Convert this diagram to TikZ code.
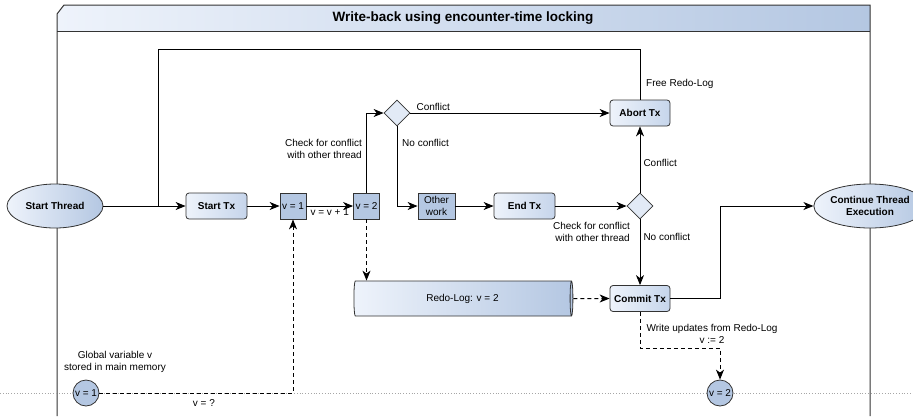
\documentclass[tikz,border=0pt]{standalone}
\usepackage{fontspec}
\setmainfont{Liberation Sans}
\usetikzlibrary{shapes.geometric,arrows.meta,positioning}

\definecolor{paleblue}{HTML}{EEF3FB}
\definecolor{softblue}{HTML}{C6D5EB}
\definecolor{midblue}{HTML}{B4C7E2}
\definecolor{poolline}{HTML}{333333}

\begin{document}
\begin{tikzpicture}[x=1pt,y=-1pt,font=\fontsize{10}{12}\selectfont,
  line/.style={draw=black, line width=1pt},
  tip/.style={-{Stealth[length=10pt,width=8pt,inset=3pt]}},
  flow/.style={line, tip},
  dflow/.style={flow, dash pattern=on 4pt off 3pt},
  term/.style={ellipse, draw=poolline, line width=0.8pt, minimum width=96pt, minimum height=44pt,
    inner sep=0pt, align=center, font=\bfseries\fontsize{10}{12}\selectfont,
    left color=paleblue, right color=midblue},
  task/.style={rectangle, rounded corners=3pt, draw=poolline, line width=0.8pt, minimum width=61pt,
    minimum height=26pt, inner sep=0pt, font=\bfseries\fontsize{10}{12}\selectfont,
    left color=paleblue, right color=softblue},
  var/.style={rectangle, draw=poolline, line width=0.8pt, fill=midblue, minimum width=26pt,
    minimum height=26pt, inner sep=0pt, align=center},
  gate/.style={diamond, draw=poolline, line width=0.8pt, fill=paleblue!70!softblue,
    minimum width=26pt, minimum height=26pt, inner sep=0pt},
  mem/.style={circle, draw=poolline, line width=0.8pt, fill=midblue, minimum size=26pt, inner sep=0pt},
  note/.style={inner sep=1pt, align=center}]
\useasboundingbox (0,0) rectangle (913,416);

% pool
\path[left color=paleblue, right color=midblue] (57,31) -- (57,14) -- (64,5) -- (870,5) -- (870,31) -- cycle;
\draw[draw=poolline, line width=1pt] (57,416) -- (57,14) -- (64,5) -- (870,5) -- (870,416);
\draw[draw=poolline, line width=1pt] (57,31) -- (870,31);
\node[font=\bfseries\fontsize{13.5}{16}\selectfont] (title) at (463,18) {Write-back using encounter-time locking};

% main memory
\draw[gray!70, dotted, line width=0.8pt] (0,393) -- (913,393);

% nodes
\node[term] (startthread) at (55,206) {Start Thread};
\node[task] (starttx) at (216.5,206) {Start Tx};
\node[var] (v1) at (293,206) {v = 1};
\node[var] (v2) at (366.5,206) {v = 2};
\node[gate] (check1) at (397,113) {};
\node[task, minimum width=60pt] (aborttx) at (640,113) {Abort Tx};
\node[var, minimum width=37pt] (otherwork) at (436.5,206) {Other\\work};
\node[task] (endtx) at (524.5,206) {End Tx};
\node[gate] (check2) at (640,206) {};
\node[task, minimum width=60pt] (committx) at (640,298.5) {Commit Tx};
\node[term, minimum width=100pt] (continue) at (870,206) {Continue Thread\\Execution};
\node[cylinder, shape border rotate=0, aspect=0.3, draw=poolline, line width=0.8pt,
  minimum height=219pt, minimum width=35pt, inner sep=0pt,
  left color=paleblue, right color=midblue] (redolog) at (462.5,298.5) {Redo-Log: v = 2};
\node[mem] (mem1) at (86,393) {v = 1};
\node[mem] (mem2) at (720,393) {v = 2};

\coordinate (fork) at (158,206);
\coordinate (loop) at (158,49);
\coordinate (wb) at (640,348);

% connectors
\draw[flow] (startthread) -- (starttx);
\draw[line] (fork) -- (loop) -| (aborttx);
\draw[flow] (starttx) -- (v1);
\draw[flow] (v1) -- node[note, below=1pt] {v = v + 1} (v2);
\draw[flow] (v2.north) |- (check1.west);
\draw[flow] (check1) -- node[note, pos=0.02, above right=1pt] {Conflict} (aborttx);
\draw[flow] (check1.south) |- (otherwork.west);
\draw[flow] (otherwork) -- (endtx);
\draw[flow] (endtx) -- (check2);
\draw[flow] (check2) -- node[note, right=2pt, pos=0.45] {Conflict} (aborttx);
\draw[flow] (check2) -- node[note, right=2pt, pos=0.26] {No conflict} (committx);
\draw[flow] (committx) -- (committx -| mem2) |- (continue);
\draw[dflow] (v2.south) -- (v2.south |- redolog.north);
\draw[dflow] (redolog) -- (committx);
\draw[dflow] (committx) -- (wb) -| (mem2);
\draw[dflow] (mem1) -| node[note, pos=0.27, below=5pt] {v = ?} (v1);

% labels
\node[note, anchor=west] (freelog) at (645,84) {Free Redo-Log};
\node[note, anchor=east, align=right] (checktext1) at (363,149) {Check for conflict\\with other thread};
\node[note, anchor=west] (noconflict1) at (401,143) {No conflict};
\node[note, anchor=east, align=right] (checktext2) at (631,232) {Check for conflict\\with other thread};
\node[note] (writeback) at (712,334) {Write updates from Redo-Log\\v := 2};
\node[note] (globalv) at (115,362) {Global variable v\\stored in main memory};
\end{tikzpicture}
\end{document}
